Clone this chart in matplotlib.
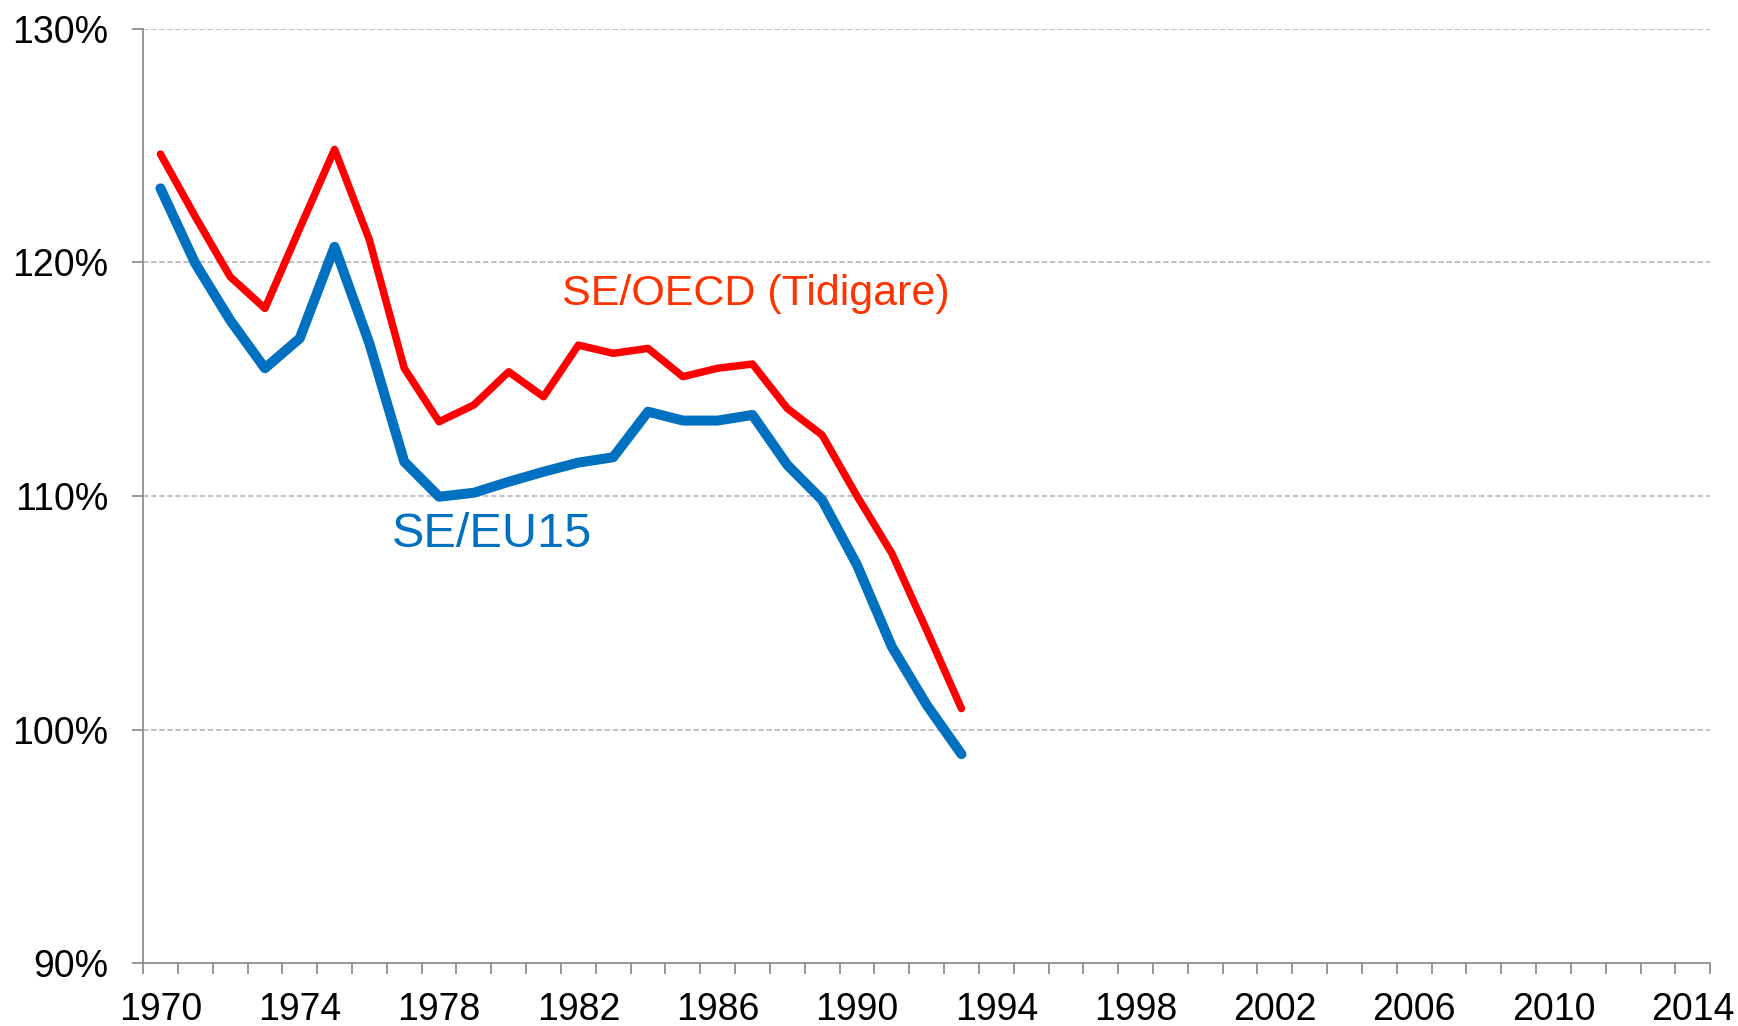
import numpy as np
import matplotlib.pyplot as plt
from matplotlib.ticker import FixedLocator, FuncFormatter

plt.rcParams['font.family'] = ['Liberation Sans', 'DejaVu Sans']

# index values, percent
years = np.arange(1970, 1994)
se_oecd = [124.64, 121.96, 119.39, 118.03, 121.46, 124.84, 120.96, 115.47,
           113.18, 113.90, 115.32, 114.25, 116.46, 116.11, 116.32, 115.11,
           115.47, 115.65, 113.75, 112.61, 110.00, 107.55, 104.26, 100.90]
se_eu15 = [123.17, 119.96, 117.53, 115.47, 116.75, 120.67, 116.53, 111.47,
           109.97, 110.14, 110.61, 111.04, 111.43, 111.66, 113.61, 113.23,
           113.23, 113.47, 111.33, 109.83, 107.05, 103.55, 101.06, 98.95]

label_years = np.arange(1970, 2015, 4)
y_ticks = [90, 100, 110, 120, 130]

axis_grey = "#868686"

fig = plt.figure(figsize=(17.38, 10.26), dpi=100)
ax = fig.add_axes([0.0823, 0.0612, 0.9017, 0.9107])

ax.plot(years, se_eu15, color="#0070C0", lw=7.2,
        solid_capstyle="round", solid_joinstyle="round", zorder=3)
ax.plot(years, se_oecd, color="#FF0000", lw=5.4,
        solid_capstyle="round", solid_joinstyle="round", zorder=3)

ax.text(1976.64, 107.83, "SE/EU15", color="#0070C0", fontsize=35,
        va="baseline", ha="left")
ax.text(1981.53, 118.18, "SE/OECD (Tidigare)", color="#FF3300", fontsize=31,
        va="baseline", ha="left")

ax.set_xlim(1969.5, 2014.5)
ax.set_ylim(90, 130)

ax.xaxis.set_major_locator(FixedLocator(label_years))
ax.xaxis.set_minor_locator(FixedLocator(np.arange(1969.5, 2015, 1)))
ax.tick_params(axis="x", which="major", length=0, pad=21, labelsize=27)
ax.tick_params(axis="x", which="minor", length=7.7, width=1.2,
               color=axis_grey, direction="out")

ax.yaxis.set_major_locator(FixedLocator(y_ticks))
ax.yaxis.set_major_formatter(FuncFormatter(lambda v, p: f"{v:.0f}%"))
ax.tick_params(axis="y", length=8, width=1.2, color=axis_grey, pad=17,
               labelsize=27)

for v in y_ticks[1:]:
    ax.axhline(v, color="#B0B0B0", lw=1.1, ls=(0, (3.5, 1.8)), zorder=1)

for s in ["top", "right"]:
    ax.spines[s].set_visible(False)
for s in ["left", "bottom"]:
    ax.spines[s].set_color(axis_grey)
    ax.spines[s].set_linewidth(1.2)

fig.savefig("out.png", dpi=100)
